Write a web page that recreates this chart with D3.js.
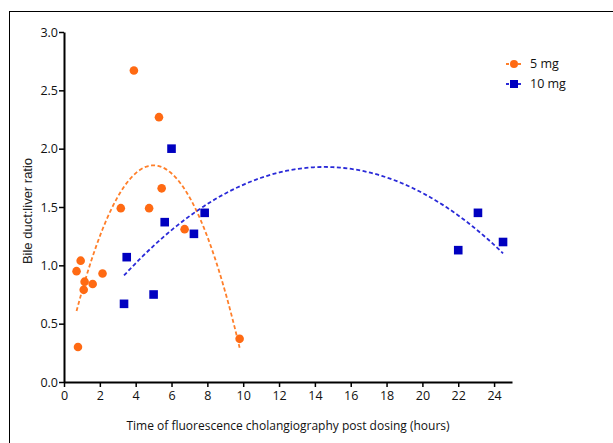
<!DOCTYPE html>
<html>
<head>
<meta charset="utf-8">
<script src="https://cdn.jsdelivr.net/npm/d3@7"></script>
<style>
  body { margin: 0; background: #fff; }
  svg { display: block; }
  .tick text { font-family: "Open Sans", sans-serif; font-size: 12.5px; fill: #111; }
</style>
</head>
<body>
<svg id="chart" width="613" height="443"></svg>
<script>
// --- data ---
const xTicks = [0, 2, 4, 6, 8, 10, 12, 14, 16, 18, 20, 22, 24];
const yTicks = [0, 0.5, 1.0, 1.5, 2.0, 2.5, 3.0];
const seriesNames = ['5 mg', '10 mg'];

const hours5 = [0.7, 0.93, 1.15, 1.1, 1.6, 2.15, 0.78, 3.17, 3.9, 4.75, 5.3, 5.45, 6.73, 9.8];
const ratio5 = [0.95, 1.04, 0.86, 0.79, 0.84, 0.93, 0.30, 1.49, 2.67, 1.49, 2.27, 1.66, 1.31, 0.37];

const hours10 = [3.35, 3.5, 5.0, 5.62, 6.0, 7.25, 7.85, 22.0, 23.1, 24.5];
const ratio10 = [0.67, 1.07, 0.75, 1.37, 2.0, 1.27, 1.45, 1.13, 1.45, 1.20];

const orange = '#ff6a13';
const blue = '#0000c0';

const svg = d3.select('#chart');

// outer frame
svg.append('rect')
    .attr('x', 9.5).attr('y', 11.5)
    .attr('width', 700).attr('height', 500)
    .attr('fill', 'none').attr('stroke', '#000').attr('stroke-width', 1);

const margin = { left: 64, top: 32, right: 101, bottom: 61 };
const width = 613 - margin.left - margin.right;
const height = 443 - margin.top - margin.bottom;

const g = svg.append('g').attr('transform', `translate(${margin.left},${margin.top})`);

const x = d3.scaleLinear().domain([0, 25]).range([0, width]);
const y = d3.scaleLinear().domain([0, 3]).range([height, 0]);

// quadratic least-squares fit, same as the original trend lines
function quadFit(xs, ys) {
    let s = [0, 0, 0, 0, 0], t = [0, 0, 0];
    xs.forEach((xv, i) => {
        for (let k = 0; k < 5; k++) s[k] += Math.pow(xv, k);
        for (let k = 0; k < 3; k++) t[k] += ys[i] * Math.pow(xv, k);
    });
    const A = [[s[0], s[1], s[2], t[0]], [s[1], s[2], s[3], t[1]], [s[2], s[3], s[4], t[2]]];
    for (let i = 0; i < 3; i++) {
        for (let j = i + 1; j < 3; j++) {
            const f = A[j][i] / A[i][i];
            for (let k = i; k < 4; k++) A[j][k] -= f * A[i][k];
        }
    }
    const c = [0, 0, 0];
    for (let i = 2; i >= 0; i--) {
        let v = A[i][3];
        for (let k = i + 1; k < 3; k++) v -= A[i][k] * c[k];
        c[i] = v / A[i][i];
    }
    return c;
}

function fitLine(xs, ys, color) {
    const c = quadFit(xs, ys);
    const lo = d3.min(xs), hi = d3.max(xs);
    const pts = d3.range(0, 101).map(i => {
        const xv = lo + (hi - lo) * i / 100;
        return [xv, c[0] + c[1] * xv + c[2] * xv * xv];
    });
    g.append('path')
        .datum(pts)
        .attr('fill', 'none')
        .attr('stroke', color)
        .attr('stroke-width', 1.8)
        .attr('stroke-dasharray', '4,2.5')
        .attr('d', d3.line().x(d => x(d[0])).y(d => y(d[1])));
}

fitLine(hours5, ratio5, '#ff7f2a');
fitLine(hours10, ratio10, '#2a2ad8');

// points
g.selectAll('.p5')
    .data(hours5.map((h, i) => [h, ratio5[i]]))
    .enter().append('circle')
    .attr('cx', d => x(d[0]))
    .attr('cy', d => y(d[1]))
    .attr('r', 4.3)
    .attr('fill', orange);

g.selectAll('.p10')
    .data(hours10.map((h, i) => [h, ratio10[i]]))
    .enter().append('rect')
    .attr('x', d => x(d[0]) - 4.3)
    .attr('y', d => y(d[1]) - 4.3)
    .attr('width', 8.6)
    .attr('height', 8.6)
    .attr('fill', blue);

// axes
const xAxis = g.append('g')
    .attr('transform', `translate(0,${height})`)
    .call(d3.axisBottom(x).tickValues(xTicks).tickSize(5).tickSizeOuter(0).tickPadding(4));
const yAxis = g.append('g')
    .call(d3.axisLeft(y).tickValues(yTicks).tickFormat(d3.format('.1f')).tickSize(5).tickSizeOuter(0).tickPadding(1));

[xAxis, yAxis].forEach(a => {
    a.select('.domain').attr('stroke', '#000').attr('stroke-width', 2);
    a.selectAll('.tick line').attr('stroke', '#000').attr('stroke-width', 1.5);
});

// axis titles
svg.append('text')
    .attr('x', 288).attr('y', 430)
    .attr('text-anchor', 'middle')
    .style('font-family', '"Open Sans", sans-serif')
    .style('font-size', '12px')
    .attr('fill', '#111')
    .text('Time of fluorescence cholangiography post dosing (hours)');

svg.append('text')
    .attr('transform', 'translate(32,211) rotate(-90)')
    .attr('text-anchor', 'middle')
    .style('font-family', '"Liberation Sans", Arial, sans-serif')
    .style('font-size', '13px')
    .attr('fill', '#222')
    .text('Bile duct:liver ratio');

// legend
const legend = svg.append('g').attr('transform', 'translate(506,64)');
const legendColors = [['#ff7f2a', orange], ['#2a2ad8', blue]];
seriesNames.forEach((name, i) => {
    const row = legend.append('g').attr('transform', `translate(0,${i * 20})`);
    row.append('line')
        .attr('x1', 0).attr('x2', 16)
        .attr('stroke', legendColors[i][0])
        .attr('stroke-width', 1.8)
        .attr('stroke-dasharray', '3,3');
    if (i === 0) {
        row.append('circle').attr('cx', 8).attr('r', 4).attr('fill', legendColors[i][1]);
    } else {
        row.append('rect').attr('x', 4).attr('y', -4).attr('width', 8).attr('height', 8).attr('fill', legendColors[i][1]);
    }
    row.append('text')
        .attr('x', 24).attr('dy', '0.35em')
        .style('font-family', '"Open Sans", sans-serif')
        .style('font-size', '12.5px')
        .attr('fill', '#111')
        .text(name);
});
</script>
</body>
</html>
